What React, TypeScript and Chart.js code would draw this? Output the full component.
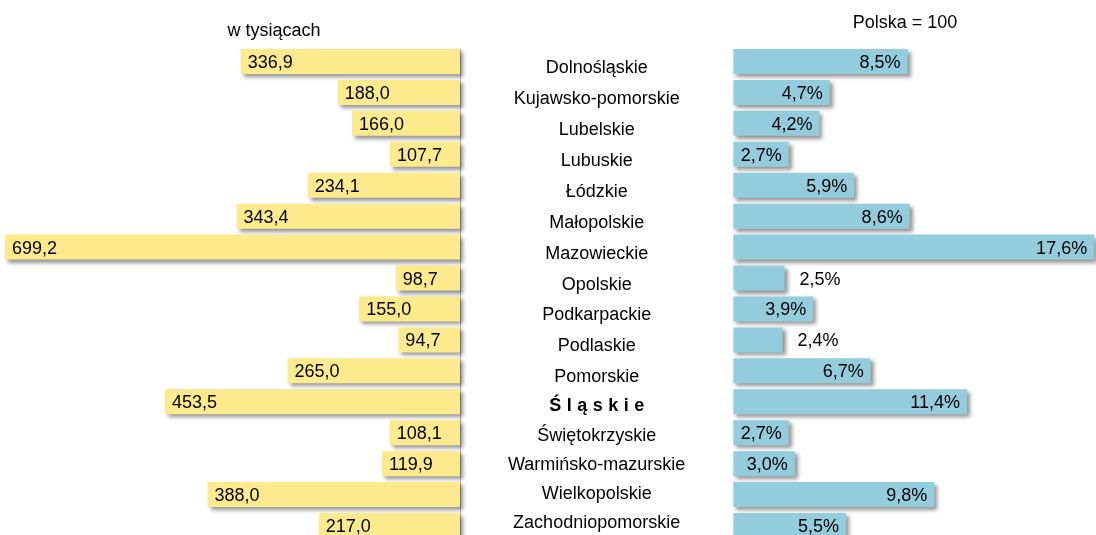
import React, { useEffect, useRef } from "react";
import { Chart, registerables } from "chart.js";

Chart.register(...registerables);

// ---- data ----
const regions = [
  "Dolnośląskie",
  "Kujawsko-pomorskie",
  "Lubelskie",
  "Lubuskie",
  "Łódzkie",
  "Małopolskie",
  "Mazowieckie",
  "Opolskie",
  "Podkarpackie",
  "Podlaskie",
  "Pomorskie",
  "Śląskie",
  "Świętokrzyskie",
  "Warmińsko-mazurskie",
  "Wielkopolskie",
  "Zachodniopomorskie",
];
const thousands = [336.9, 188.0, 166.0, 107.7, 234.1, 343.4, 699.2, 98.7, 155.0, 94.7, 265.0, 453.5, 108.1, 119.9, 388.0, 217.0];
const sharePct = [8.5, 4.7, 4.2, 2.7, 5.9, 8.6, 17.6, 2.5, 3.9, 2.4, 6.7, 11.4, 2.7, 3.0, 9.8, 5.5];
const highlighted = "Śląskie";
const leftTitle = "w tysiącach";
const rightTitle = "Polska = 100";

const FONT = '"Liberation Sans", Arial, Helvetica, sans-serif';
const YELLOW = "#FCEA8D";
const BLUE = "#93CDDD";

const fmtNum = (v: number) => v.toFixed(1).replace(".", ",");
const fmtPct = (v: number) => v.toFixed(1).replace(".", ",") + "%";

const shadowPlugin = {
  id: "barShadow",
  beforeDatasetsDraw(chart: any) {
    const ctx = chart.ctx;
    const xL = chart.scales.xL;
    const y = chart.scales.y;
    // thin vertical axis line at the base of the left bars
    ctx.save();
    ctx.strokeStyle = "#b0b0b0";
    ctx.lineWidth = 1;
    const lx = Math.round(xL.getPixelForValue(0)) + 0.5;
    ctx.beginPath();
    ctx.moveTo(lx, y.getPixelForValue(0) - 12);
    ctx.lineTo(lx, chart.height);
    ctx.stroke();
    ctx.restore();

    ctx.save();
    ctx.shadowColor = "rgba(0,0,0,0.42)";
    ctx.shadowBlur = 4;
    ctx.shadowOffsetX = 3;
    ctx.shadowOffsetY = 3;
  },
  afterDatasetsDraw(chart: any) {
    chart.ctx.restore();
  },
};

const labelPlugin = {
  id: "labels",
  afterDatasetsDraw(chart: any) {
    const ctx = chart.ctx;
    const xL = chart.scales.xL;
    const xR = chart.scales.xR;
    ctx.save();
    ctx.fillStyle = "#000";
    ctx.font = `18px ${FONT}`;
    ctx.textBaseline = "alphabetic";

    // titles
    ctx.textAlign = "center";
    ctx.fillText(leftTitle, 274, 36);
    ctx.fillText(rightTitle, 905, 28);

    const m0 = chart.getDatasetMeta(0);
    const m1 = chart.getDatasetMeta(1);
    m0.data.forEach((el: any, i: number) => {
      const left = Math.min(el.x, el.base);
      ctx.textAlign = "left";
      ctx.fillText(fmtNum(thousands[i]), left + 7, el.y + 6.5);
    });
    m1.data.forEach((el: any, i: number) => {
      const txt = fmtPct(sharePct[i]);
      const w = ctx.measureText(txt).width;
      const width = el.x - el.base;
      if (w + 12 > width) {
        ctx.textAlign = "left";
        ctx.fillText(txt, el.x + 15, el.y + 6.5);
      } else {
        ctx.textAlign = "right";
        ctx.fillText(txt, el.x - 7, el.y + 6.5);
      }
    });

    // region names between the two bar groups
    const cx = (xL.getPixelForValue(0) + xR.getPixelForValue(0)) / 2;
    m0.data.forEach((el: any, i: number) => {
      const off = i <= 10 ? 5 : 5 - (i - 10) * 1.8;
      const by = el.y + 6.5 + off;
      const name = regions[i];
      if (name === highlighted) {
        ctx.font = `bold 18px ${FONT}`;
        const chars = Array.from(name);
        const sp = 5.5;
        const widths = chars.map((c) => ctx.measureText(c).width);
        const total = widths.reduce((a, b) => a + b, 0) + sp * (chars.length - 1);
        let x = cx - total / 2;
        ctx.textAlign = "left";
        chars.forEach((c, k) => {
          ctx.fillText(c, x, by);
          x += widths[k] + sp;
        });
        ctx.font = `18px ${FONT}`;
      } else {
        ctx.textAlign = "center";
        ctx.fillText(name, cx, by);
      }
    });
    ctx.restore();
  },
};

export default function App() {
  const ref = useRef<HTMLCanvasElement>(null);
  useEffect(() => {
    document.body.style.margin = "0";
    const chart = new Chart(ref.current as HTMLCanvasElement, {
      type: "bar",
      data: {
        labels: regions,
        datasets: [
          {
            label: leftTitle,
            data: thousands,
            xAxisID: "xL",
            yAxisID: "y",
            backgroundColor: YELLOW,
            borderWidth: 0,
            grouped: false,
            barPercentage: 0.81,
            categoryPercentage: 1,
          } as any,
          {
            label: rightTitle,
            data: sharePct,
            xAxisID: "xR",
            yAxisID: "y",
            backgroundColor: BLUE,
            borderWidth: 0,
            grouped: false,
            barPercentage: 0.81,
            categoryPercentage: 1,
          } as any,
        ],
      },
      options: {
        indexAxis: "y",
        animation: false,
        responsive: false,
        devicePixelRatio: 1,
        layout: { padding: { top: 46, bottom: 0, left: 0, right: 0 } },
        plugins: { legend: { display: false }, tooltip: { enabled: false } },
        scales: {
          y: { type: "category", display: false, offset: true },
          xL: { type: "linear", axis: "x", position: "bottom", display: false, reverse: true, min: -977.4, max: 706.9 },
          xR: { type: "linear", axis: "x", position: "bottom", display: false, min: -35.77, max: 17.69 },
        },
      } as any,
      plugins: [shadowPlugin, labelPlugin],
    });
    return () => chart.destroy();
  }, []);
  return (
    <div style={{ position: "fixed", left: 0, top: 0, width: 1096, height: 535, overflow: "hidden", background: "#fff" }}>
      <div style={{ width: 1096, height: 541 }}>
        <canvas ref={ref} width={1096} height={541} style={{ display: "block" }} />
      </div>
    </div>
  );
}
